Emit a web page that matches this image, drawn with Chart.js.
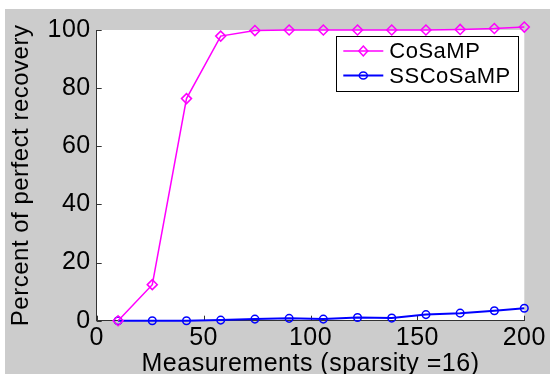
<!DOCTYPE html>
<html>
<head>
<meta charset="utf-8">
<script src="https://cdn.jsdelivr.net/npm/chart.js@4.4.0/dist/chart.umd.min.js"></script>
<style>
  html, body { margin: 0; padding: 0; background: #fff; overflow: hidden; }
  #wrap { position: absolute; left: 5px; top: 9px; width: 545px; height: 370px; }
</style>
</head>
<body>
<div id="wrap"><canvas id="chart"></canvas></div>
<script>
const measurements = [10, 26, 42, 58, 74, 90, 106, 122, 138, 154, 170, 186, 200];
const cosampValues = [0, 12.4, 76.4, 97.9, 99.8, 100, 100, 100, 100, 100, 100.2, 100.5, 101];
const sscosampValues = [0, 0, 0, 0.2, 0.55, 0.8, 0.55, 1.1, 0.9, 2.1, 2.6, 3.4, 4.3];
const xTicks = [0, 50, 100, 150, 200];
const yTicks = [0, 20, 40, 60, 80, 100];
const seriesNames = ['CoSaMP', 'SSCoSaMP'];

const FONT = '"Liberation Sans", Arial, sans-serif';
const AXIS_COLOR = '#333';

function toPoints(values) {
  return measurements.map((m, i) => ({ x: m, y: values[i] }));
}

// grey figure background + white axes box
const backgroundPlugin = {
  id: 'figureBackground',
  beforeDraw(chart) {
    const { ctx, chartArea: a } = chart;
    ctx.letterSpacing = '0.5px'; // the original text is a bit wider
    ctx.save();
    ctx.fillStyle = '#cccccc';
    ctx.fillRect(0, 0, chart.width, chart.height);
    ctx.fillStyle = '#ffffff';
    ctx.fillRect(a.left, a.top, a.right - a.left, a.bottom - a.top);
    ctx.restore();
  }
};

// matlab style ticks pointing into the plot
const innerTicksPlugin = {
  id: 'innerTicks',
  beforeDatasetsDraw(chart) {
    const { ctx, chartArea: a, scales } = chart;
    ctx.save();
    ctx.strokeStyle = AXIS_COLOR;
    ctx.lineWidth = 1;
    ctx.beginPath();
    scales.y.ticks.forEach(t => {
      const py = Math.round(scales.y.getPixelForValue(t.value)) + 0.5;
      ctx.moveTo(a.left, py);
      ctx.lineTo(a.left + 5, py);
    });
    scales.x.ticks.forEach(t => {
      const px = Math.round(scales.x.getPixelForValue(t.value)) + 0.5;
      ctx.moveTo(px, a.bottom);
      ctx.lineTo(px, a.bottom - 5);
    });
    ctx.stroke();
    ctx.restore();
  }
};

function drawMarker(ctx, style, cx, cy) {
  ctx.beginPath();
  if (style === 'rectRot') {
    ctx.moveTo(cx, cy - 5);
    ctx.lineTo(cx + 4.5, cy);
    ctx.lineTo(cx, cy + 5);
    ctx.lineTo(cx - 4.5, cy);
    ctx.closePath();
  } else {
    ctx.ellipse(cx, cy, 4, 3.5, 0, 0, Math.PI * 2);
  }
  ctx.stroke();
}

// legend box inside the axes, top right
const boxLegendPlugin = {
  id: 'boxLegend',
  afterDatasetsDraw(chart) {
    const { ctx, chartArea: a } = chart;
    const w = 182, h = 55;
    const x0 = a.right - 6 - w, y0 = a.top + 6;
    ctx.save();
    ctx.fillStyle = '#fff';
    ctx.fillRect(x0, y0, w, h);
    ctx.strokeStyle = '#000';
    ctx.lineWidth = 1;
    ctx.strokeRect(Math.round(x0) + 0.5, Math.round(y0) + 0.5, w, h);
    ctx.font = '22px ' + FONT;
    ctx.textBaseline = 'middle';
    chart.data.datasets.forEach((ds, i) => {
      const cy = y0 + 15 + i * 24.5;
      ctx.strokeStyle = ds.borderColor;
      ctx.lineWidth = ds.borderWidth;
      ctx.beginPath();
      ctx.moveTo(x0 + 7, cy);
      ctx.lineTo(x0 + 47, cy);
      ctx.stroke();
      ctx.lineWidth = ds.pointBorderWidth;
      drawMarker(ctx, ds.pointStyle, x0 + 27, cy);
      ctx.fillStyle = '#000';
      ctx.fillText(ds.label, x0 + 53, cy + 1);
    });
    ctx.restore();
  }
};

new Chart(document.getElementById('chart'), {
  type: 'line',
  data: {
    datasets: [
      {
        label: seriesNames[0],
        data: toPoints(cosampValues),
        borderColor: '#ff00ff',
        borderWidth: 1.5,
        pointStyle: 'rectRot',
        pointRadius: 5,
        pointBorderWidth: 1.5,
        pointBackgroundColor: 'rgba(0,0,0,0)',
        pointBorderColor: '#ff00ff',
        tension: 0,
        clip: false
      },
      {
        label: seriesNames[1],
        data: toPoints(sscosampValues),
        borderColor: '#0000ff',
        borderWidth: 2,
        pointStyle: 'circle',
        pointRadius: 3.8,
        pointBorderWidth: 1.5,
        pointBackgroundColor: 'rgba(0,0,0,0)',
        pointBorderColor: '#0000ff',
        tension: 0,
        clip: false
      }
    ]
  },
  options: {
    responsive: true,
    maintainAspectRatio: false,
    animation: false,
    layout: { padding: { top: 19.3, right: 25.7, left: 0, bottom: 0 } },
    plugins: {
      legend: { display: false },
      tooltip: { enabled: false }
    },
    scales: {
      x: {
        type: 'linear',
        min: 0,
        max: 200,
        afterBuildTicks: s => { s.ticks = xTicks.map(v => ({ value: v })); },
        afterFit: s => { s.height = 58.3; },
        grid: { display: false, drawTicks: false },
        border: { display: true, color: AXIS_COLOR, width: 1 },
        ticks: { padding: 2, color: '#000', font: { family: FONT, size: 25 }, maxRotation: 0 },
        title: {
          display: true,
          text: 'Measurements (sparsity =16)',
          color: '#000',
          font: { family: FONT, size: 25 },
          padding: 0
        }
      },
      y: {
        type: 'linear',
        min: 0,
        max: 100,
        afterBuildTicks: s => { s.ticks = yTicks.map(v => ({ value: v })); },
        afterFit: s => { s.width = 91.7; },
        grid: { display: false, drawTicks: false },
        border: { display: true, color: AXIS_COLOR, width: 1 },
        ticks: { padding: 6, color: '#000', font: { family: FONT, size: 25 } },
        title: {
          display: true,
          text: 'Percent of perfect recovery',
          color: '#000',
          font: { family: FONT, size: 24 },
          padding: { top: 1.5, bottom: 0 }
        }
      }
    }
  },
  plugins: [backgroundPlugin, innerTicksPlugin, boxLegendPlugin]
});
</script>
</body>
</html>
